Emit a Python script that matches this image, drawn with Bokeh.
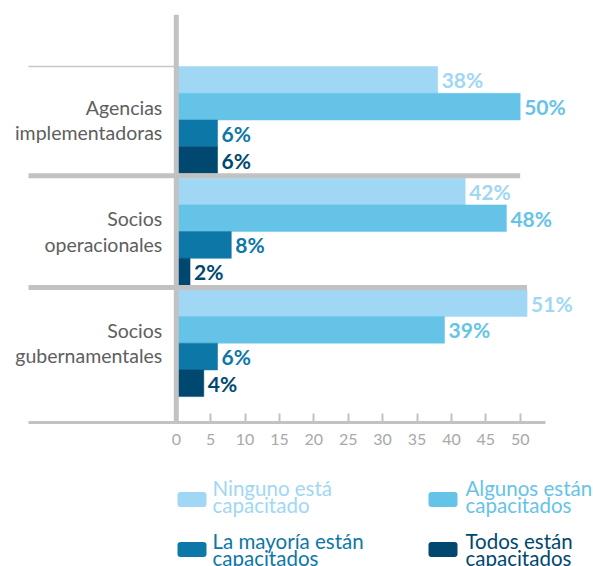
from bokeh.plotting import figure
from bokeh.models import Range1d, FixedTicker, Span
from bokeh.layouts import column
from bokeh.embed import file_html
from bokeh.resources import INLINE
from bokeh.core.properties import value

# ---------------- data ----------------
groups = ["Agencias\nimplementadoras", "Socios\noperacionales", "Socios\ngubernamentales"]
series = ["Ninguno está\ncapacitado", "Algunos están\ncapacitados",
          "La mayoría están\ncapacitados", "Todos están\ncapacitados"]
ninguno = [38, 42, 51]
algunos = [50, 48, 39]
mayoria = [6, 8, 6]
todos = [6, 2, 4]
x_ticks = [0, 5, 10, 15, 20, 25, 30, 35, 40, 45, 50]

series_values = [ninguno, algunos, mayoria, todos]
colors = ["#9fd7f4", "#66c3e8", "#0d77a8", "#00486f"]

# ---------------- layout constants ----------------
FONT = value("Lato")
GRAY = "#c2c2c2"
W = 593
X_START, X_END = -25.56, 60.66        # frame spans the full width
AXIS_LEFT, AXIS_RIGHT = -21.49, 53.68  # visible extent of the x axis line
Y_BOTTOM, Y_TOP = 15.28, 0.0
GROUP_TOP0 = 1.95
GROUP_PITCH = 4.18
SEP_GAP = 0.09

p = figure(frame_width=W, frame_height=408, output_backend="svg", toolbar_location=None,
           x_range=Range1d(X_START, X_END), y_range=Range1d(Y_BOTTOM, Y_TOP),
           y_axis_location=None, min_border_left=0, min_border_right=0,
           min_border_top=14, min_border_bottom=36)
p.outline_line_color = None
p.xgrid.visible = False
p.ygrid.visible = False
p.background_fill_color = "white"
p.border_fill_color = "white"

# bars + value labels
for s, vals in enumerate(series_values):
    ys = [GROUP_TOP0 + g * GROUP_PITCH + s + 0.5 for g in range(len(groups))]
    p.hbar(y=ys, left=0, right=vals, height=1.0, fill_color=colors[s],
           line_color=colors[s], line_width=0.5)
    p.text(x=vals, y=ys, text=[f"{v}%" for v in vals], x_offset=4,
           text_baseline="middle", text_align="left", text_color=colors[s],
           text_font=FONT, text_font_style="bold", text_font_size="21px")

# separators between groups (extend to longest adjacent bar)
for g in range(len(groups) - 1):
    ysep = GROUP_TOP0 + (g + 1) * GROUP_PITCH - SEP_GAP
    xend = max(max(v[g], v[g + 1]) for v in series_values)
    p.segment(x0=[AXIS_LEFT], x1=[xend], y0=[ysep], y1=[ysep],
              line_color=GRAY, line_width=5)
# thin top separator in label area
p.segment(x0=[AXIS_LEFT], x1=[0], y0=[GROUP_TOP0], y1=[GROUP_TOP0],
          line_color="#c8c8c8", line_width=1.5)

# vertical axis line at 0
p.add_layout(Span(location=0, dimension="height", line_color=GRAY, line_width=5))

# category labels
p.text(x=[0] * len(groups), y=[GROUP_TOP0 + g * GROUP_PITCH + 2 for g in range(len(groups))],
       text=groups, x_offset=-14, text_align="right", text_baseline="middle",
       text_color="#5e5e5e", text_font=FONT, text_font_size="19.5px", text_line_height=1.11)

# x axis
ax = p.xaxis[0]
ax.bounds = (AXIS_LEFT, AXIS_RIGHT)
ax.ticker = FixedTicker(ticks=x_ticks)
ax.major_tick_in = 9
ax.major_tick_out = 0
ax.minor_tick_line_color = None
ax.major_tick_line_color = GRAY
ax.major_tick_line_width = 2
ax.axis_line_color = GRAY
ax.axis_line_width = 3
ax.major_label_text_color = "#a8a8a8"
ax.major_label_text_font = "Lato"
ax.major_label_text_font_size = "16px"
ax.major_label_standoff = 11

# ---------------- legend figure ----------------
LEG_COL_X = [177, 428]
LEG_ROW_Y = [41, 91]
TXT_DY = [-3, 0]
SW_W, SW_H = 29, 15
TXT_DX = [35, 37]

p2 = figure(frame_width=W, frame_height=108, output_backend="svg", toolbar_location=None,
            x_range=Range1d(0, W), y_range=Range1d(108, 0),
            x_axis_location=None, y_axis_location=None,
            min_border_left=0, min_border_right=0, min_border_top=0, min_border_bottom=0)
p2.outline_line_color = None
p2.xgrid.visible = False
p2.ygrid.visible = False

sx = [LEG_COL_X[i % 2] for i in range(len(series))]
sy = [LEG_ROW_Y[i // 2] for i in range(len(series))]
tx = [LEG_COL_X[i % 2] + TXT_DX[i % 2] for i in range(len(series))]
ty = [LEG_ROW_Y[i // 2] + TXT_DY[i // 2] for i in range(len(series))]
p2.quad(left=sx, right=[x + SW_W for x in sx], top=[y - SW_H / 2 for y in sy],
        bottom=[y + SW_H / 2 for y in sy], fill_color=colors, line_color=None,
        border_radius=3)
p2.text(x=tx, y=ty, text=series, text_color=colors,
        text_baseline="middle", text_align="left", text_font=FONT,
        text_font_size="20.5px", text_line_height=0.7)

layout = column(p, p2, spacing=0)
open("out.html", "w").write(file_html(layout, INLINE))
